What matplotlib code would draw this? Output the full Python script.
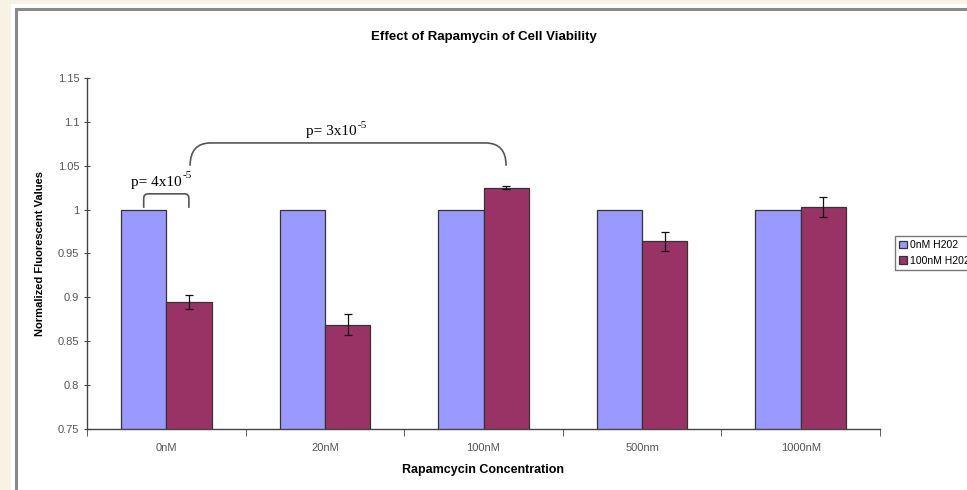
import matplotlib
matplotlib.use('Agg')
import matplotlib.pyplot as plt
import numpy as np
from matplotlib.patches import Rectangle
from matplotlib.path import Path
from matplotlib.patches import PathPatch

# datos del experimento
concentraciones = ['0nM', '20nM', '100nM', '500nm', '1000nM']
sin_h2o2 = [1.0, 1.0, 1.0, 1.0, 1.0]
con_h2o2 = [0.895, 0.869, 1.025, 0.964, 1.003]
err_h2o2 = [0.008, 0.012, 0.002, 0.011, 0.011]
series = ['0nM H202', '100nM H202']
p_base = ['p= 4x10', 'p= 3x10']
p_exp = ['-5', '-5']

fig = plt.figure(figsize=(9.67, 4.9), dpi=100)
fig.patch.set_facecolor('#f8f2e6')

# marco blanco del area de la grafica
fig.patches.append(Rectangle((11/967, 0), 1, 1 - 4/490, transform=fig.transFigure,
                             facecolor='white', edgecolor='none', zorder=-3))
fig.patches.append(Rectangle((16/967, -0.05), 1, 1 - 9/490 + 0.05, transform=fig.transFigure,
                             facecolor='none', edgecolor='#8a8a8a', linewidth=2.2, zorder=-2))

ax = fig.add_axes([87/967, 1 - 429/490, 793/967, 351/490])
ax.set_facecolor('none')

x = np.arange(len(concentraciones))
ancho = 0.285
ax.bar(x - ancho/2, sin_h2o2, ancho, color='#9999ff', edgecolor='#333333',
       linewidth=0.9, label=series[0])
ax.bar(x + ancho/2, con_h2o2, ancho, color='#993366', edgecolor='#333333',
       linewidth=0.9, label=series[1])
ax.errorbar(x + ancho/2, con_h2o2, yerr=err_h2o2, fmt='none', ecolor='#111111',
            elinewidth=0.9, capsize=3, capthick=0.9)

ax.set_xlim(-0.5, len(concentraciones) - 0.5)
ax.set_ylim(0.75, 1.15)
ax.set_yticks(np.arange(0.75, 1.151, 0.05))
ax.set_yticklabels(['0.75', '0.8', '0.85', '0.9', '0.95', '1', '1.05', '1.1', '1.15'])
ax.set_xticks(x)
ax.set_xticklabels(concentraciones)
ax.set_xticks(np.arange(-0.5, len(concentraciones), 1), minor=True)
ax.tick_params(axis='x', which='major', length=0, pad=10)
ax.tick_params(axis='x', which='minor', length=5, direction='out', color='#444444')
ax.tick_params(axis='y', length=4, direction='inout', color='#444444')
ax.tick_params(labelsize=8, labelcolor='#555555')
for lab in ax.get_xticklabels() + ax.get_yticklabels():
    lab.set_fontfamily('Liberation Sans')
for s in ['top', 'right']:
    ax.spines[s].set_visible(False)
for s in ['left', 'bottom']:
    ax.spines[s].set_color('#444444')
    ax.spines[s].set_linewidth(1.0)

ax.set_title('Effect of Rapamycin of Cell Viability', fontsize=9.5, fontweight='bold',
             family='Liberation Sans', pad=27)
ax.set_ylabel('Normalized Fluorescent Values', fontsize=8, fontweight='bold',
              family='Liberation Sans', labelpad=9)
ax.set_xlabel('Rapamcycin Concentration', fontsize=9, fontweight='bold',
              family='Liberation Sans', labelpad=8)


def llave(ax, x0, x1, y_base, y_top, r, rv):
    # corchete con esquinas redondeadas entre dos barras
    verts = [(x0, y_base), (x0, y_top - rv), (x0, y_top), (x0 + r, y_top),
             (x1 - r, y_top), (x1, y_top), (x1, y_top - rv), (x1, y_base)]
    codes = [Path.MOVETO, Path.LINETO, Path.CURVE3, Path.CURVE3,
             Path.LINETO, Path.CURVE3, Path.CURVE3, Path.LINETO]
    ax.add_patch(PathPatch(Path(verts, codes), facecolor='none', edgecolor='#555555',
                           linewidth=1.2, clip_on=False))


def etiqueta_p(ax, xc, y, base, exp):
    t = ax.text(xc, y, base, fontsize=11, family='Liberation Serif',
                ha='center', va='bottom')
    ax.annotate(exp, xy=(1, 1), xycoords=t, xytext=(0.5, 3), textcoords='offset points',
                fontsize=8, family='Liberation Serif', ha='left', va='top')


llave(ax, x[0] - ancho/2, x[0] + ancho/2, 1.002, 1.018, r=0.03, rv=0.005)
llave(ax, x[0] + 0.15, x[2] + ancho/2, 1.050, 1.076, r=0.13, rv=0.026)
etiqueta_p(ax, x[0] - 0.06, 1.024, p_base[0], p_exp[0])
etiqueta_p(ax, 1.04, 1.082, p_base[1], p_exp[1])

leg = fig.legend(loc='upper left', bbox_to_anchor=(890/967, 1 - 231/490),
                 frameon=True, fancybox=False, handlelength=0.7,
                 handleheight=0.7, handletextpad=0.3, borderpad=0.4, labelspacing=0.5,
                 prop={'family': 'Liberation Sans', 'size': 7.5})
leg.get_frame().set_edgecolor('#555555')
leg.get_frame().set_linewidth(1.0)

plt.savefig('out.png', dpi=100, facecolor=fig.get_facecolor())
